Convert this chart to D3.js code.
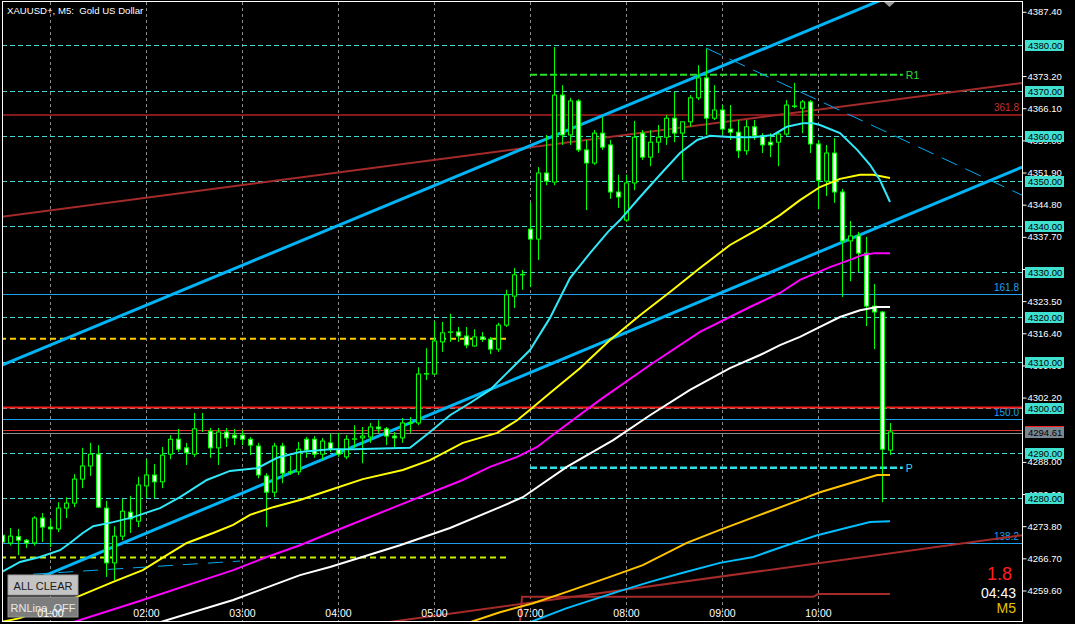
<!DOCTYPE html>
<html>
<head>
<meta charset="utf-8">
<script src="https://cdn.jsdelivr.net/npm/d3@7"></script>
<style>
  html, body { margin: 0; padding: 0; background: #000; }
  svg { display: block; }
  text { font-family: "Liberation Sans", Arial, sans-serif; }
</style>
</head>
<body>
<svg id="chart" width="1075" height="624"></svg>
<script>
// ---- data (XAUUSD+, M5) ----
const opens = [4271.8,4270.1,4271.5,4270.7,4270.1,4275.6,4273.6,4273.2,4277.8,4278.9,4284.2,4287.1,4289.7,4277.8,4265.7,4271.6,4276.9,4274.9,4282.7,4285.1,
  4283.6,4289.7,4293.0,4291.1,4289.7,4295.0,4294.8,4291.1,4294.6,4293.9,4293.9,4293.0,4291.5,4284.9,4281.3,4291.5,4285.8,4285.8,4293.0,4293.0,
  4289.7,4292.2,4290.8,4289.1,4293.0,4293.3,4293.5,4295.7,4295.3,4293.7,4293.3,4296.6,4296.6,4307.4,4307.4,4314.5,4316.6,4316.7,4315.8,4313.6,
  4315.6,4315.1,4312.9,4318.2,4324.6,4329.3,4339.4,4337.2,4351.8,4349.8,4369.0,4360.2,4367.7,4356.9,4354.0,4360.6,4358.0,4347.6,4341.4,4349.6,
  4360.6,4355.3,4358.6,4359.7,4363.9,4360.6,4363.1,4368.4,4372.8,4363.9,4365.7,4361.5,4360.8,4356.7,4362.0,4360.0,4358.6,4358.6,4360.4,4366.6,
  4366.1,4367.5,4358.2,4350.0,4356.2,4347.6,4336.8,4337.9,4334.1,4322.4,4321.1,4290.6];
const highs = [4272.5,4273.4,4273.2,4271.0,4276.0,4276.7,4275.4,4279.1,4280.2,4285.3,4291.1,4292.2,4291.7,4279.4,4273.8,4279.8,4280.5,4284.7,4288.6,4287.5,
  4291.3,4293.9,4295.3,4292.2,4298.8,4298.8,4295.5,4295.5,4295.5,4295.3,4295.0,4293.5,4292.2,4285.5,4292.2,4292.2,4289.3,4292.4,4293.5,4293.7,
  4293.3,4294.2,4294.4,4293.9,4296.1,4295.7,4296.6,4297.2,4295.7,4294.6,4297.7,4297.9,4308.9,4313.1,4319.1,4318.9,4320.7,4317.8,4317.8,4317.3,
  4316.7,4315.6,4318.7,4326.0,4330.8,4330.4,4345.2,4353.1,4360.2,4379.6,4371.2,4368.4,4368.1,4359.1,4361.3,4364.2,4359.1,4351.4,4351.4,4363.3,
  4361.3,4361.3,4362.4,4364.6,4369.7,4363.1,4369.0,4375.6,4379.2,4371.2,4366.8,4366.8,4363.5,4363.5,4363.5,4360.6,4360.6,4360.8,4367.9,4371.7,
  4367.9,4367.9,4359.1,4358.0,4359.5,4348.3,4341.2,4338.8,4337.7,4327.3,4321.3,4296.6];
const lows = [4269.6,4269.5,4267.4,4269.0,4269.5,4270.3,4269.2,4272.5,4275.6,4278.0,4282.2,4284.9,4277.8,4262.6,4261.9,4270.7,4272.3,4273.6,4280.0,4280.0,
  4282.2,4288.6,4290.2,4287.3,4289.1,4294.6,4288.9,4287.3,4291.3,4291.7,4291.7,4289.5,4284.4,4273.6,4280.2,4283.3,4285.1,4285.1,4288.9,4288.9,
  4288.4,4290.2,4289.1,4288.6,4291.1,4287.7,4292.2,4294.4,4291.7,4291.1,4292.2,4294.4,4296.1,4306.1,4307.2,4312.3,4314.5,4314.5,4313.1,4313.4,
  4314.5,4311.8,4312.3,4317.8,4322.0,4326.0,4326.6,4332.6,4349.1,4349.1,4358.0,4358.0,4356.4,4343.6,4353.6,4356.9,4346.1,4344.1,4341.0,4348.0,
  4354.7,4353.3,4356.2,4358.0,4358.6,4350.2,4362.0,4367.9,4360.2,4363.5,4360.2,4359.1,4355.1,4355.8,4359.1,4356.2,4355.3,4353.3,4360.0,4366.1,
  4360.6,4356.2,4343.8,4346.7,4345.2,4324.4,4327.9,4329.9,4318.0,4312.9,4279.1,4289.5];
const closes = [4270.3,4271.6,4270.7,4270.1,4275.6,4273.6,4273.2,4277.8,4278.9,4284.2,4287.1,4289.7,4278.0,4265.7,4271.6,4277.1,4275.4,4282.9,4285.1,4283.6,
  4289.5,4293.0,4290.8,4290.0,4295.3,4295.0,4291.1,4294.6,4293.3,4293.3,4293.0,4291.7,4285.1,4281.3,4291.5,4285.5,4285.7,4290.8,4290.6,4289.7,
  4292.6,4290.8,4289.7,4293.0,4293.1,4293.7,4295.7,4295.3,4293.7,4293.3,4296.6,4296.5,4307.4,4307.5,4314.7,4316.5,4316.7,4315.8,4313.8,4315.6,
  4315.1,4312.9,4318.2,4324.9,4329.3,4329.4,4337.2,4351.8,4350.0,4369.0,4360.2,4367.7,4356.9,4354.0,4360.6,4357.5,4347.6,4346.5,4349.6,4359.7,
  4355.3,4358.6,4359.7,4363.9,4360.6,4363.1,4368.4,4372.8,4363.9,4365.7,4361.5,4360.8,4356.7,4362.0,4360.0,4358.0,4358.0,4360.4,4366.8,4366.5,
  4367.5,4358.2,4350.2,4356.2,4347.6,4336.8,4337.9,4334.1,4322.4,4321.1,4290.8,4294.61];

// moving averages, [bar index, price]
const maAqua = [[0,4263.7],[2.25,4265.9],[4.75,4267.0],[7.25,4268.5],[8.5,4270.1],[10.1,4272.3],[11.4,4273.8],[13.9,4274.7],[16.4,4275.8],
  [19.75,4277.8],[22.25,4280.2],[25.6,4284.0],[28.5,4286.0],[31.9,4286.6],[34.4,4288.9],[37.25,4290.2],[41,4290.8],[43.9,4290.8],[51,4291.1],
  [53.5,4294.6],[56,4298.3],[58.5,4301.0],[61,4303.9],[63.5,4308.3],[66,4312.7],[68.5,4319.8],[71,4328.6],[73.5,4334.1],[75.75,4338.8],
  [77.25,4341.4],[79.75,4346.5],[82.25,4351.4],[84.75,4356.2],[86.9,4359.1],[88.5,4360.0],[91.4,4359.7],[93.9,4359.7],[96.4,4360.2],
  [98.1,4362.0],[100.1,4362.8],[101.4,4362.8],[102.25,4362.4],[104.75,4360.6],[106.9,4356.9],[108.5,4353.6],[109.75,4350.2],[111,4345.4]];
const maYellow = [[-0.25,4252.6],[2.25,4253.5],[9.4,4258.2],[13.9,4261.5],[17.6,4264.1],[20.6,4267.4],[23.1,4270.1],[26.4,4272.3],[28.9,4274.1],
  [31,4276.3],[33.9,4278.0],[37.25,4279.6],[41,4281.8],[45.1,4284.2],[50.1,4286.2],[53.5,4288.4],[57.6,4292.2],[61.9,4294.4],[64.4,4297.2],
  [66,4299.5],[68.5,4303.2],[72.25,4308.7],[76,4314.9],[79.75,4320.4],[83.5,4325.5],[87.25,4330.8],[91,4335.9],[94.75,4339.6],[97.25,4342.5],
  [99.75,4345.8],[102.25,4348.7],[104.75,4350.5],[107.25,4351.4],[108.9,4351.4],[111,4350.7]];
const maMagenta = [[8.9,4252.6],[17.6,4257.5],[25.1,4261.9],[28.9,4264.1],[33.1,4267.0],[37.25,4269.6],[41,4272.3],[49.75,4278.5],[57.6,4284.0],
  [61,4286.9],[64.4,4289.1],[66.9,4291.3],[68.5,4293.5],[74.75,4301.7],[81,4309.4],[87.25,4316.7],[93.5,4322.2],[97.25,4325.3],[99.75,4328.2],
  [103.5,4331.0],[106,4332.6],[107.6,4333.7],[109.1,4334.1],[111,4334.1]];
const maWhite = [[19.75,4252.6],[28.9,4257.5],[37.25,4263.0],[41,4264.8],[49.75,4269.6],[56,4273.4],[62.25,4278.0],[65.1,4280.2],[70.6,4286.9],
  [76.4,4292.8],[81,4298.3],[86,4303.9],[91,4308.7],[94.75,4311.6],[97.25,4313.8],[99.75,4315.6],[102.25,4317.8],[104.75,4320.0],[107.25,4321.5],
  [109.4,4322.2],[111,4322.2]];
const maGold = [[58.5,4252.6],[62.25,4254.8],[66.4,4256.8],[70.6,4259.3],[76,4262.6],[80.1,4265.2],[85.6,4270.1],[89.75,4273.0],[94.75,4276.3],
  [99.75,4279.6],[102.25,4281.3],[106,4283.3],[109.4,4285.1],[111,4285.1]];
const maBlue = [[66,4252.6],[70.6,4255.7],[76.9,4259.3],[81,4261.5],[85.1,4263.5],[89.75,4265.7],[93.9,4267.0],[98.1,4269.6],[101.9,4271.8],
  [106,4273.6],[108.5,4274.7],[111,4274.9]];

// drawn objects, [bar index, price]
const channelUpper = [[-0.25, 4309.2], [97.5, 4380.9]];
const channelLower = [[4, 4261.9], [127.5, 4353.1]];
const dashFromHigh = [[88, 4379.4], [127.5, 4346.9]];
const dashOld = [[3.9, 4263.2], [29.75, 4266.1]];
const brownTrendUpper = [[-0.25, 4342.1], [127.5, 4371.7]];
const brownTrendLower = [[48.25, 4252.6], [127.5, 4271.8]];
const brownStep = [[64.75, 4252.6], [65, 4258.2], [101.4, 4258.2], [102, 4258.8], [111, 4258.8]];

const roundLevels = [4380, 4370, 4360, 4350, 4340, 4330, 4320, 4310, 4300, 4290, 4280];
const fibLabels = ["161.8", "150.0", "138.2"];
const fibPrices = [4325.0, 4297.4, 4270.0];
const fibUpperLabel = "361.8";
const fibUpperPrice = 4364.6;
const redLevel = 4300.0;
const askLine = 4295.0;
const bidPrice = 4294.61;
const r1Price = 4373.5;
const pivotPrice = 4286.7;
const goldDashPrice = 4315.2;
const limeDashPrice = 4266.9;
const sessionLineSpan = [66, 112.6];
const oldLineSpan = [-0.25, 63.5];

// scale ticks that are not fully covered by the level boxes
const axisTicks = [4387.4, 4373.2, 4366.1, 4359.0, 4351.9, 4344.8, 4337.7, 4330.6, 4323.5, 4316.4, 4309.3,
  4302.2, 4288.0, 4280.9, 4273.8, 4266.7, 4259.6];
const timeLabels = ["01:00", "02:00", "03:00", "04:00", "05:00", "07:00", "08:00", "09:00", "10:00"];
const timeIndex = [6, 18, 30, 42, 54, 66, 78, 90, 102];

// ---- layout ----
var svg = d3.select("#chart"),
	plotLeft = 2,
	plotRight = 1022,
	plotTop = 2,
	plotBottom = 621;

var x = d3.scaleLinear().domain([0, 111]).range([2, 890]);
var y = d3.scaleLinear().domain([4390, 4252.2]).range([0, 624]);
var crisp = (v) => Math.round(v) + 0.5;
var fmt = d3.format(".2f");

svg.append("rect")
	.attr("width", 1075).attr("height", 624).attr("fill", "#000");

svg.append("defs").append("clipPath").attr("id", "plotClip")
	.append("rect")
	.attr("x", plotLeft).attr("y", plotTop)
	.attr("width", plotRight - plotLeft).attr("height", plotBottom - plotTop);

var plot = svg.append("g").attr("clip-path", "url(#plotClip)");

// vertical time grid
plot.selectAll(".vgrid")
	.data(timeIndex)
	.enter()
	.append("line")
	.attr("x1", (d) => crisp(x(d))).attr("x2", (d) => crisp(x(d)))
	.attr("y1", plotTop).attr("y2", plotBottom)
	.attr("stroke", "#8a8a8a")
	.attr("stroke-dasharray", "3,3");

// round-number levels
plot.selectAll(".rn")
	.data(roundLevels)
	.enter()
	.append("line")
	.attr("x1", plotLeft).attr("x2", plotRight)
	.attr("y1", (d) => crisp(y(d))).attr("y2", (d) => crisp(y(d)))
	.attr("stroke", "#40D8D0")
	.attr("stroke-dasharray", "5,3");

// fibonacci lines
plot.selectAll(".fib")
	.data(fibPrices)
	.enter()
	.append("line")
	.attr("x1", plotLeft).attr("x2", plotRight)
	.attr("y1", (d) => crisp(y(d))).attr("y2", (d) => crisp(y(d)))
	.attr("stroke", "#1EA0F0");

plot.selectAll(".fibtxt")
	.data(fibPrices)
	.enter()
	.append("text")
	.attr("x", 1019).attr("y", (d) => y(d) - 3)
	.attr("text-anchor", "end")
	.attr("font-size", "10px")
	.attr("fill", "#1EA0F0")
	.text((d, i) => fibLabels[i]);

plot.append("line")
	.attr("x1", plotLeft).attr("x2", plotRight)
	.attr("y1", y(fibUpperPrice)).attr("y2", y(fibUpperPrice))
	.attr("stroke", "#B22222").attr("stroke-width", 1.5);
plot.append("text")
	.attr("x", 1019).attr("y", y(fibUpperPrice) - 4)
	.attr("text-anchor", "end")
	.attr("font-size", "10px")
	.attr("fill", "#C83232")
	.text(fibUpperLabel);

// horizontal price lines
plot.append("line")
	.attr("x1", plotLeft).attr("x2", plotRight)
	.attr("y1", y(redLevel)).attr("y2", y(redLevel))
	.attr("stroke", "#FF1A1A").attr("stroke-width", 2);
plot.append("line")
	.attr("x1", plotLeft).attr("x2", plotRight)
	.attr("y1", crisp(y(askLine))).attr("y2", crisp(y(askLine)))
	.attr("stroke", "#E03030");
plot.append("line")
	.attr("x1", plotLeft).attr("x2", plotRight)
	.attr("y1", crisp(y(bidPrice)) + 1).attr("y2", crisp(y(bidPrice)) + 1)
	.attr("stroke", "#8C8C8C");

// dashed session lines
function hDash(price, span, color, width, dash) {
	plot.append("line")
		.attr("x1", x(span[0])).attr("x2", x(span[1]))
		.attr("y1", y(price)).attr("y2", y(price))
		.attr("stroke", color)
		.attr("stroke-width", width)
		.attr("stroke-dasharray", dash);
}
hDash(goldDashPrice, oldLineSpan, "#FFCC00", 2, "6,4");
hDash(limeDashPrice, oldLineSpan, "#C8F000", 2, "6,4");
hDash(r1Price, sessionLineSpan, "#2BE02B", 2, "7,3");
hDash(pivotPrice, sessionLineSpan, "#30E0E8", 2.5, "7,3");

plot.append("text")
	.attr("x", x(sessionLineSpan[1]) + 3).attr("y", y(r1Price) + 4)
	.attr("font-size", "10.5px").attr("fill", "#33DD33").text("R1");
svg.append("text")
	.attr("x", x(sessionLineSpan[1]) + 3).attr("y", y(pivotPrice) + 4)
	.attr("font-size", "10.5px").attr("fill", "#30D8E8").text("P");

// trendlines (rays extend to the right edge)
var edgeIndex = x.invert(plotRight);
function ray(pts) {
	var a = pts[0], b = pts[1];
	var slope = (b[1] - a[1]) / (b[0] - a[0]);
	return [a, [edgeIndex, a[1] + slope * (edgeIndex - a[0])]];
}
var lineGen = d3.line().x((d) => x(d[0])).y((d) => y(d[1]));

function drawPath(pts, color, width, dash) {
	var p = plot.append("path")
		.attr("d", lineGen(pts))
		.attr("fill", "none")
		.attr("stroke", color)
		.attr("stroke-width", width);
	if (dash) p.attr("stroke-dasharray", dash);
	return p;
}

drawPath(ray(brownTrendUpper), "#A52A2A", 2);
drawPath(ray(brownTrendLower), "#A52A2A", 2);
drawPath(brownStep, "#A52A2A", 2);
drawPath(ray(channelUpper), "#00B4F5", 3);
drawPath(channelLower, "#00B4F5", 3);
drawPath(dashOld, "#00A8F0", 1, "15,10");
drawPath(ray(dashFromHigh), "#00A8F0", 1, "17,9");

// candles
var bars = d3.range(opens.length).map((i) => ({ i: i, o: opens[i], h: highs[i], l: lows[i], c: closes[i] }));

plot.selectAll(".wick")
	.data(bars)
	.enter()
	.append("line")
	.attr("class", "wick")
	.attr("x1", (d) => x(d.i) + 0.5).attr("x2", (d) => x(d.i) + 0.5)
	.attr("y1", (d) => y(d.h)).attr("y2", (d) => y(d.l))
	.attr("stroke", "#00FF00");

plot.selectAll(".body")
	.data(bars)
	.enter()
	.append("rect")
	.attr("class", "body")
	.attr("x", (d) => x(d.i) - 1.5)
	.attr("width", 4)
	.attr("y", (d) => y(Math.max(d.o, d.c)))
	.attr("height", (d) => Math.abs(y(d.o) - y(d.c)))
	.attr("fill", (d) => (d.c >= d.o ? "#000" : "#fff"))
	.attr("stroke", "#00FF00");

// moving averages on top
drawPath(maWhite, "#FFFFFF", 2);
drawPath(maMagenta, "#FF00FF", 2);
drawPath(maGold, "#FFC400", 2);
drawPath(maBlue, "#00BFFF", 2);
drawPath(maYellow, "#FFFF00", 2);
drawPath(maAqua, "#30E8F8", 2);

// frame
svg.append("rect")
	.attr("x", plotLeft + 0.5).attr("y", plotTop - 0.5)
	.attr("width", plotRight - plotLeft).attr("height", plotBottom - plotTop + 1)
	.attr("fill", "none").attr("stroke", "#fff");

// price axis
var axis = svg.append("g")
	.attr("transform", "translate(" + (plotRight + 0.5) + ",0)")
	.call(d3.axisRight(y).tickValues(axisTicks).tickSize(4).tickPadding(1).tickFormat(fmt));
axis.select(".domain").remove();
axis.selectAll("line").attr("stroke", "#fff");
axis.selectAll("text")
	.attr("fill", "#fff")
	.attr("font-size", "9.5px")
	.attr("font-family", "Liberation Sans, Arial, sans-serif");

var rnLabels = svg.selectAll(".rnlab")
	.data(roundLevels)
	.enter()
	.append("g")
	.attr("transform", (d) => "translate(1025," + Math.round(y(d)) + ")");
rnLabels.append("rect")
	.attr("x", 0).attr("y", -5).attr("width", 39).attr("height", 11)
	.attr("fill", "#40E0D0");
rnLabels.append("text")
	.attr("x", 3).attr("y", 4)
	.attr("font-size", "9.5px").attr("fill", "#000")
	.text((d) => fmt(d));

var bidLab = svg.append("g").attr("transform", "translate(1025," + Math.round(y(bidPrice)) + ")");
bidLab.append("rect")
	.attr("x", 0).attr("y", -5).attr("width", 39).attr("height", 11)
	.attr("fill", "#7A8792");
bidLab.append("line")
	.attr("x1", 0).attr("x2", 39).attr("y1", -5.5).attr("y2", -5.5)
	.attr("stroke", "#FF2020");
bidLab.append("text")
	.attr("x", 3).attr("y", 4)
	.attr("font-size", "9.5px").attr("fill", "#000")
	.text(fmt(bidPrice));

// chart shift marker
svg.append("path")
	.attr("d", d3.line()([[x(111) - 6, 2], [x(111) + 5, 2], [x(111) - 0.5, 7]]) + "Z")
	.attr("fill", "#9a9a9a");

// buttons
var btn1 = svg.append("g").attr("transform", "translate(8,575)");
btn1.append("rect").attr("width", 70).attr("height", 20).attr("fill", "#C4C4C4")
	.attr("stroke", "#A0A0A0");
btn1.append("text").attr("x", 35).attr("y", 14.5).attr("text-anchor", "middle")
	.attr("font-size", "11px").attr("fill", "#1a1a1a").text("ALL CLEAR");
var btn2 = svg.append("g").attr("transform", "translate(8,597)");
btn2.append("rect").attr("width", 70).attr("height", 20).attr("fill", "#7D7D7D")
	.attr("stroke", "#9a9a9a");
btn2.append("text").attr("x", 35).attr("y", 14.5).attr("text-anchor", "middle")
	.attr("font-size", "11px").attr("fill", "#E8E8E8").text("RNLine_OFF");

// time labels
svg.selectAll(".tlab")
	.data(timeIndex)
	.enter()
	.append("text")
	.attr("x", (d) => x(d) + 0.5)
	.attr("y", 617)
	.attr("text-anchor", "middle")
	.attr("font-size", "10.5px")
	.attr("fill", "#fff")
	.text((d, i) => timeLabels[i]);

// title
svg.append("text")
	.attr("x", 7).attr("y", 14)
	.attr("font-size", "9.6px")
	.attr("fill", "#fff")
	.style("white-space", "pre")
	.text("XAUUSD+, M5:  Gold US Dollar");

// spread / timer / period
svg.append("text").attr("x", 1012).attr("y", 580).attr("text-anchor", "end")
	.attr("font-size", "18px").attr("fill", "#FF1E1E").text("1.8");
svg.append("text").attr("x", 1016).attr("y", 598).attr("text-anchor", "end")
	.attr("font-size", "14px").attr("fill", "#fff").text("04:43");
svg.append("text").attr("x", 1016).attr("y", 613).attr("text-anchor", "end")
	.attr("font-size", "14px").attr("fill", "#E8C000").text("M5");
</script>
</body>
</html>
